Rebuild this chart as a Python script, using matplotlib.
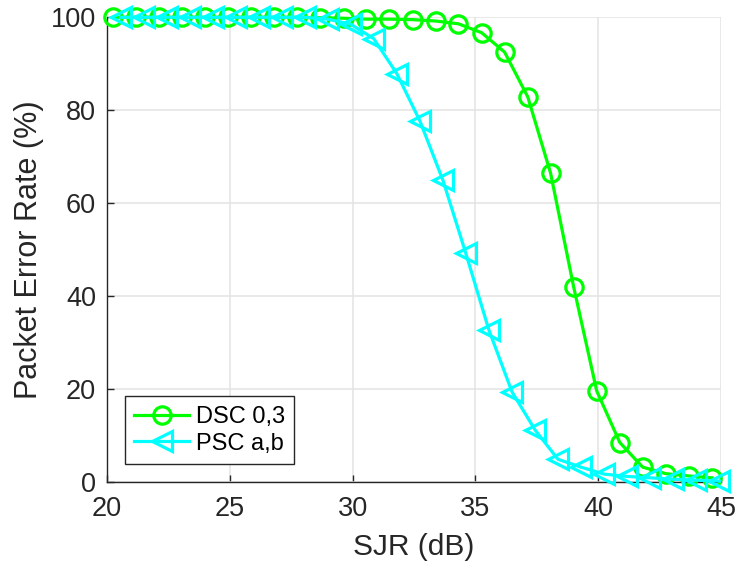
import matplotlib
matplotlib.use("Agg")
import matplotlib.pyplot as plt

# SJR sample points (dB) for each scheme
sjr_dsc = [20.25, 21.19, 22.13, 23.06, 24.00, 24.94, 25.88, 26.81, 27.75,
           28.69, 29.63, 30.56, 31.50, 32.44, 33.38, 34.31, 35.25, 36.19,
           37.13, 38.06, 39.00, 39.94, 40.88, 41.81, 42.75, 43.69, 44.63]
sjr_psc = [20.55, 21.49, 22.43, 23.36, 24.30, 25.24, 26.18, 27.11, 28.05,
           28.99, 29.93, 30.86, 31.80, 32.74, 33.68, 34.61, 35.55, 36.49,
           37.43, 38.36, 39.30, 40.24, 41.18, 42.11, 43.05, 43.99, 44.93]

# Packet error rate (%)
per_dsc = [100, 100, 100, 100, 100, 100, 100, 100, 100,
           99.9, 99.8, 99.6, 99.6, 99.5, 99.2, 98.6, 96.7, 92.5,
           82.9, 66.5, 42.0, 19.6, 8.5, 3.2, 1.8, 1.3, 0.9]
per_psc = [100, 100, 100, 100, 100, 100, 100, 100, 100,
           99.6, 98.5, 95.4, 87.9, 77.7, 64.9, 49.2, 32.7, 19.4,
           11.2, 4.9, 3.2, 1.7, 1.2, 0.9, 0.6, 0.4, 0.2]

labels = ["DSC 0,3", "PSC a,b"]
x_ticks = [20, 25, 30, 35, 40, 45]
y_ticks = [0, 20, 40, 60, 80, 100]

plt.rcParams["font.family"] = ["Liberation Sans", "DejaVu Sans"]
ink = "#262626"

fig = plt.figure(figsize=(7.36, 5.61), dpi=100)
ax = fig.add_axes([107 / 736, 79 / 561, 614 / 736, 464.7 / 561])

ax.plot(sjr_dsc, per_dsc, color="#00ff00", lw=2.3, marker="o", ms=12.5,
        mfc="none", mew=2.3, label=labels[0], zorder=3, clip_on=False)
ax.plot(sjr_psc, per_psc, color="#00ffff", lw=2.3, marker="<", ms=14,
        mfc="none", mew=2.3, label=labels[1], zorder=4, clip_on=False)

ax.set_xlim(20, 45)
ax.set_ylim(0, 100)
ax.set_xticks(x_ticks)
ax.set_yticks(y_ticks)

ax.grid(True, color="#e3e3e3", lw=1.1)
ax.set_axisbelow(True)
for side in ("top", "right"):
    ax.spines[side].set_visible(False)
for side in ("left", "bottom"):
    ax.spines[side].set_color(ink)
    ax.spines[side].set_linewidth(1.0)

ax.tick_params(direction="in", length=5, width=1.0, color=ink,
               labelcolor=ink, labelsize=19.5)
ax.tick_params(axis="x", pad=10)
ax.tick_params(axis="y", pad=8)

ax.set_xlabel("SJR (dB)", fontsize=21.5, color=ink, labelpad=8)
ax.set_ylabel("Packet Error Rate (%)", fontsize=22, color=ink, labelpad=5)

leg = ax.legend(loc="lower left", bbox_to_anchor=(18 / 614, 18 / 464.7),
                borderaxespad=0, fontsize=17, handlelength=2.3,
                handletextpad=0.3, borderpad=0.4, labelspacing=0.2,
                fancybox=False, framealpha=1, edgecolor=ink)
leg.get_frame().set_linewidth(1.0)
for t in leg.get_texts():
    t.set_color("black")

fig.savefig("out.png", dpi=100)
